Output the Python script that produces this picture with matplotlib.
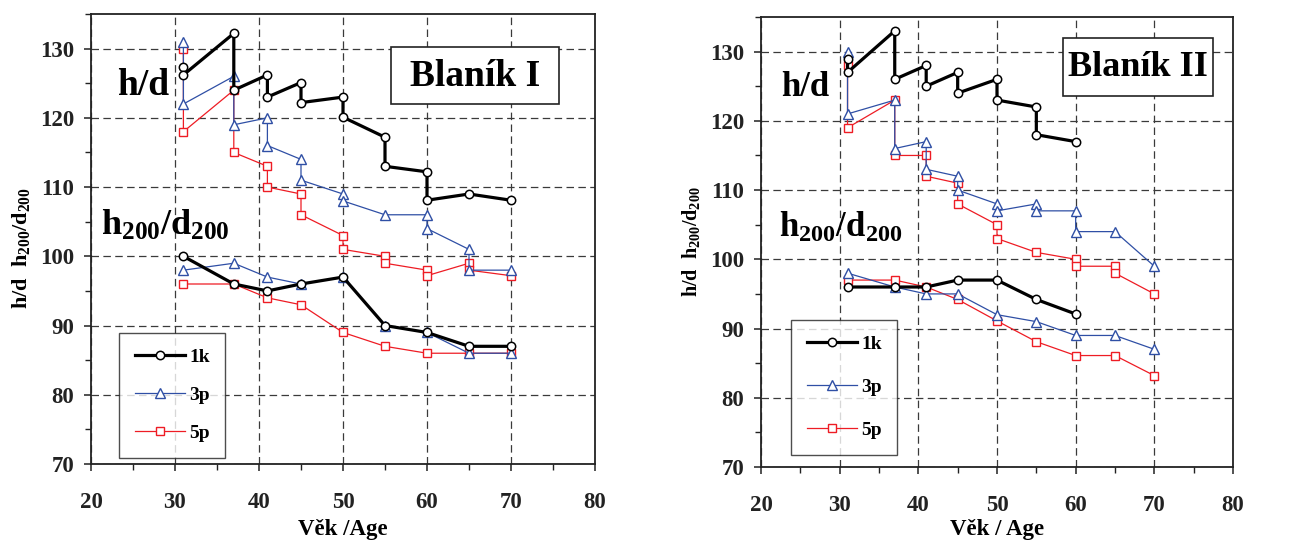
import matplotlib
matplotlib.use("Agg")
import matplotlib.pyplot as plt
from matplotlib.patches import Rectangle
from matplotlib.ticker import MultipleLocator

plt.rcParams['font.family'] = ['Liberation Serif', 'DejaVu Serif']
plt.rcParams['font.weight'] = 'bold'
plt.rcParams['mathtext.fontset'] = 'custom'
plt.rcParams['mathtext.rm'] = 'Liberation Serif:bold'
plt.rcParams['mathtext.it'] = 'Liberation Serif:bold'
plt.rcParams['mathtext.bf'] = 'Liberation Serif:bold'

# ---------------- Blaník I ----------------
ages_I_1k_hd = [31, 31, 37, 37, 41, 41, 45, 45, 50, 50, 55, 55, 60, 60, 65, 70]
I_1k_hd = [127.3, 126.2, 132.2, 124.0, 126.2, 123.0, 125.1, 122.2, 123.0, 120.1, 117.2, 113.0, 112.2, 108.1, 109.0, 108.1]
ages_I_3p_hd = [31, 31, 37, 37, 41, 41, 45, 45, 50, 50, 55, 60, 60, 65, 65, 70]
I_3p_hd = [131.0, 122.0, 126.0, 119.0, 120.0, 116.0, 114.0, 111.0, 109.0, 108.0, 106.0, 106.0, 104.0, 101.0, 98.0, 98.0]
ages_I_5p_hd = [31, 31, 37, 37, 41, 41, 45, 45, 50, 50, 55, 55, 60, 60, 65, 65, 70]
I_5p_hd = [130.0, 118.0, 124.0, 115.0, 113.0, 110.0, 109.0, 106.0, 103.0, 101.0, 100.0, 99.0, 98.0, 97.2, 99.0, 98.0, 97.2]
ages_I_h200 = [31, 37, 41, 45, 50, 55, 60, 65, 70]
I_1k_h200 = [100.0, 96.0, 95.0, 96.0, 97.0, 90.0, 89.0, 87.0, 87.0]
I_3p_h200 = [98.0, 99.0, 97.0, 96.0, 97.0, 90.0, 89.0, 86.0, 86.0]
I_5p_h200 = [96.0, 96.0, 94.0, 93.0, 89.0, 87.0, 86.0, 86.0, 86.0]

# ---------------- Blaník II ----------------
ages_II_1k_hd = [31, 31, 37, 37, 41, 41, 45, 45, 50, 50, 55, 55, 60]
II_1k_hd = [129.0, 127.0, 133.0, 126.0, 128.0, 125.0, 127.0, 124.0, 126.0, 123.0, 122.0, 118.0, 117.0]
ages_II_3p_hd = [31, 31, 37, 37, 41, 41, 45, 45, 50, 50, 55, 55, 60, 60, 65, 70]
II_3p_hd = [130.0, 121.0, 123.0, 116.0, 117.0, 113.0, 112.0, 110.0, 108.0, 107.0, 108.0, 107.0, 107.0, 104.0, 104.0, 99.0]
ages_II_5p_hd = [31, 31, 37, 37, 41, 41, 45, 45, 50, 50, 55, 60, 60, 65, 65, 70]
II_5p_hd = [128.0, 119.0, 123.0, 115.0, 115.0, 112.0, 111.0, 108.0, 105.0, 103.0, 101.0, 100.0, 99.0, 99.0, 98.0, 95.0]
ages_II_1k_h200 = [31, 37, 41, 45, 50, 55, 60]
II_1k_h200 = [96.0, 96.0, 96.0, 97.0, 97.0, 94.2, 92.1]
ages_II_h200 = [31, 37, 41, 45, 50, 55, 60, 65, 70]
II_3p_h200 = [98.0, 96.0, 95.0, 95.0, 92.0, 91.0, 89.0, 89.0, 87.0]
II_5p_h200 = [97.0, 97.0, 96.0, 94.2, 91.1, 88.1, 86.1, 86.1, 83.2]

series_labels = ['1k', '3p', '5p']
titles = ['Blaník I', 'Blaník II']
xlabels = ['Věk /Age', 'Věk / Age']

BLUE = '#2f4fa5'
RED = '#ee1c24'
styles = {
    '1k': dict(color='black', lw=2.3, marker='o', ms=6, mfc='white', mec='black', mew=1.1),
    '3p': dict(color=BLUE, lw=0.9, marker='^', ms=7, mfc='white', mec=BLUE, mew=1.0),
    '5p': dict(color=RED, lw=0.9, marker='s', ms=6, mfc='white', mec=RED, mew=1.0),
}

W, H = 1312, 542
fig = plt.figure(figsize=(W / 100, H / 100), dpi=100)

def fx(px):
    return px / W

def fy(py):
    return 1 - py / H

axI = fig.add_axes([fx(91), fy(464), fx(595) - fx(91), fy(14) - fy(464)])
axII = fig.add_axes([fx(761), fy(467), fx(1233) - fx(761), fy(17) - fy(467)])

data = [
    (axI, [(ages_I_1k_hd, I_1k_hd, '1k'), (ages_I_3p_hd, I_3p_hd, '3p'), (ages_I_5p_hd, I_5p_hd, '5p'),
           (ages_I_h200, I_1k_h200, '1k'), (ages_I_h200, I_3p_h200, '3p'), (ages_I_h200, I_5p_h200, '5p')]),
    (axII, [(ages_II_1k_hd, II_1k_hd, '1k'), (ages_II_3p_hd, II_3p_hd, '3p'), (ages_II_5p_hd, II_5p_hd, '5p'),
            (ages_II_1k_h200, II_1k_h200, '1k'), (ages_II_h200, II_3p_h200, '3p'), (ages_II_h200, II_5p_h200, '5p')]),
]

order = {'5p': 2, '3p': 3, '1k': 4}
for ax, lst in data:
    handles = {}
    for xs, ys, lab in lst:
        ln, = ax.plot(xs, ys, zorder=order[lab], clip_on=False, **styles[lab])
        handles.setdefault(lab, ln)
    ax.set_xlim(20, 80)
    ax.set_ylim(70, 135)
    ax.xaxis.set_major_locator(MultipleLocator(10))
    ax.xaxis.set_minor_locator(MultipleLocator(5))
    ax.yaxis.set_major_locator(MultipleLocator(10))
    ax.yaxis.set_minor_locator(MultipleLocator(5))
    ax.grid(True, which='major', ls=(0, (6, 3.5)), lw=0.9, color='#3a3a3a')
    ax.set_axisbelow(True)
    ax.tick_params(which='major', direction='out', length=5, width=1.1, labelsize=16.5,
                   colors='#222222')
    ax.tick_params(axis='x', which='major', pad=15)
    ax.tick_params(axis='y', which='major', pad=7)
    ax.tick_params(which='minor', direction='out', length=4, width=1.0, colors='#222222')
    for lbl in ax.get_xticklabels() + ax.get_yticklabels():
        lbl.set_fontweight('bold')
    for sp in ax.spines.values():
        sp.set_linewidth(1.3)
        sp.set_color('#222222')
    ax.handles_ = handles

# y labels
fig.text(fx(21), fy(248), 'h/d  h$_{200}$/d$_{200}$', rotation=90, ha='center', va='center', fontsize=16)
fig.text(fx(691), fy(242), 'h/d  h$_{200}$/d$_{200}$', rotation=90, ha='center', va='center', fontsize=14.5)

# x labels
fig.text(fx(343), fy(529), xlabels[0], ha='center', va='center', fontsize=16.5)
fig.text(fx(997), fy(529), xlabels[1], ha='center', va='center', fontsize=16.5)

# in-plot annotations
fig.text(fx(143), fy(95), 'h/d', ha='center', va='baseline', fontsize=27)
fig.text(fx(165), fy(235), 'h$_{200}$/d$_{200}$', ha='center', va='baseline', fontsize=26)
fig.text(fx(805), fy(96), 'h/d', ha='center', va='baseline', fontsize=25)
fig.text(fx(841), fy(237), 'h$_{200}$/d$_{200}$', ha='center', va='baseline', fontsize=25)

# title boxes
for (x0, y0, x1, y1), t, fs in [((391, 47, 559, 104), titles[0], 27), ((1063, 38, 1213, 96), titles[1], 26)]:
    fig.patches.append(Rectangle((fx(x0), fy(y1)), fx(x1) - fx(x0), fy(y0) - fy(y1),
                                 transform=fig.transFigure, fill=True, facecolor='white',
                                 edgecolor='#222222', lw=1.2, zorder=5))
    fig.text(fx((x0 + x1) / 2), fy((y0 + y1) / 2 + 1), t, ha='center', va='center', fontsize=fs, zorder=6)

# legends
for ax, (lx, ly), sp in [(axI, (119, 333), 1.05), (axII, (791, 320), 1.3)]:
    h = ax.handles_
    leg = ax.legend([h[k] for k in series_labels], series_labels,
                    loc='upper left', bbox_to_anchor=(fx(lx), fy(ly)), bbox_transform=fig.transFigure,
                    handlelength=2.6, handletextpad=0.2, labelspacing=sp,
                    borderpad=0.8, borderaxespad=0, fancybox=False, frameon=True,
                    prop={'weight': 'bold', 'size': 14, 'family': 'Liberation Serif'})
    leg.get_frame().set_edgecolor('#222222')
    leg.get_frame().set_linewidth(1.0)
    leg.set_zorder(10)

fig.savefig('out.png', dpi=100)
